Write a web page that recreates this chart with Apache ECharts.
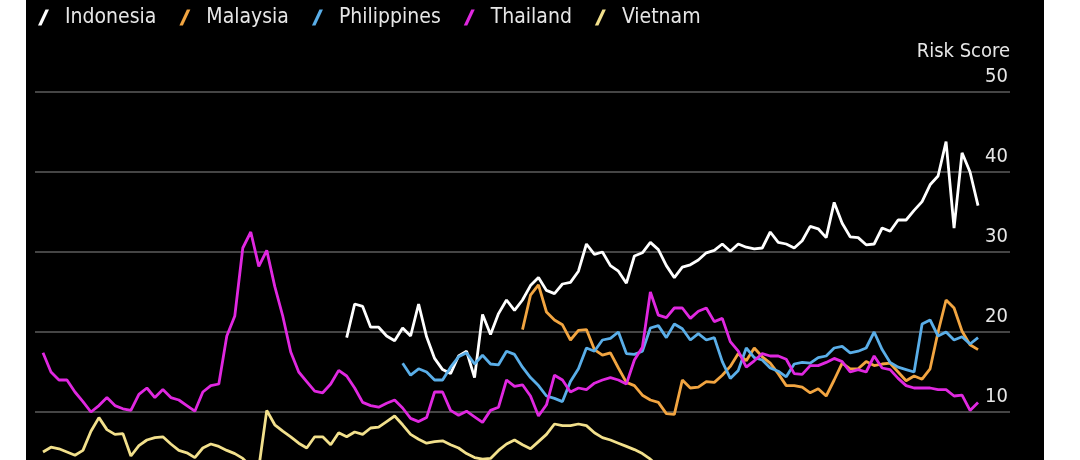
<!DOCTYPE html>
<html>
<head>
<meta charset="utf-8">
<title>Risk Score</title>
<script src="https://cdn.jsdelivr.net/npm/echarts@6/dist/echarts.min.js"></script>
<style>
    html, body { margin: 0; padding: 0; background: #ffffff; overflow: hidden; }
    /* the chart runs below the window; the bottom part is cut off like the source */
    #chart { position: absolute; left: 26px; top: 0; width: 1018px; height: 492px; }
</style>
</head>
<body>
<div id="chart"></div>
<script>
// weekly observations, index 0..122
var weekCount = 123;
var yTicks = [0, 10, 20, 30, 40, 50];

var countries = ['Indonesia', 'Malaysia', 'Philippines', 'Thailand', 'Vietnam'];
var colors = ['#ffffff', '#f2a541', '#5aaee8', '#e028e0', '#f2e08c'];

// first week index of each series
var startWeek = { Indonesia: 39, Malaysia: 61, Philippines: 46, Thailand: 1, Vietnam: 1 };

var indonesia = [19.3, 23.5, 23.2, 20.6, 20.6, 19.5, 18.9, 20.5, 19.5, 23.5,
    19.4, 16.7, 15.3, 14.8, 17, 17.6, 14.3, 22.2, 19.7, 22.3,
    24, 22.7, 24, 25.8, 26.8, 25.2, 24.8, 26, 26.2, 27.6,
    31, 29.7, 30, 28.3, 27.6, 26.1, 29.5, 29.9, 31.2, 30.3,
    28.3, 26.8, 28.1, 28.4, 29, 29.9, 30.2, 31, 30.1, 31,
    30.6, 30.4, 30.5, 32.5, 31.2, 31, 30.5, 31.4, 33.2, 32.9,
    31.8, 36.2, 33.6, 31.9, 31.8, 30.9, 31, 33, 32.6, 34,
    34, 35.2, 36.3, 38.4, 39.5, 43.8, 33, 42.4, 40, 35.8];

var malaysia = [20.3, 24.6, 25.9, 22.5, 21.5, 20.9, 19, 20.2, 20.3, 17.8,
    17.1, 17.4, 15.5, 13.7, 13.3, 12.1, 11.5, 11.2, 9.8, 9.7,
    14, 13, 13.1, 13.8, 13.7, 14.6, 15.7, 17.3, 16.4, 18,
    16.9, 16.1, 14.8, 13.3, 13.3, 13.1, 12.4, 12.9, 12, 14,
    16.1, 15.4, 15.4, 16.3, 15.8, 16, 16.1, 15, 13.9, 14.5,
    14.1, 15.4, 20, 24, 23, 20.1, 18.4, 17.8];

var philippines = [16.1, 14.6, 15.4, 15, 14, 14, 15.6, 16.9, 17.4, 16,
    17.1, 16, 15.9, 17.6, 17.2, 15.6, 14.3, 13.3, 12, 11.7,
    11.3, 13.8, 15.4, 18, 17.6, 19, 19.2, 20, 17.3, 17.2,
    17.6, 20.5, 20.8, 19.3, 21, 20.4, 19, 19.8, 19, 19.3,
    16.3, 14.2, 15.2, 18, 16.8, 16.5, 15.5, 15.1, 14.4, 16,
    16.2, 16.1, 16.8, 17, 18, 18.2, 17.4, 17.6, 18, 20,
    17.8, 16.2, 15.6, 15.3, 15, 21, 21.5, 19.5, 20, 19,
    19.4, 18.5, 19.3];

var thailand = [17.4, 15, 14, 14, 12.5, 11.3, 10, 10.8, 11.8, 10.8,
    10.4, 10.2, 12.2, 13, 11.8, 12.8, 11.8, 11.5, 10.8, 10.1,
    12.5, 13.3, 13.5, 19.5, 22, 30.5, 32.5, 28.2, 30.2, 25.7,
    22, 17.5, 15, 13.8, 12.6, 12.4, 13.5, 15.2, 14.5, 13,
    11.2, 10.8, 10.6, 11.1, 11.5, 10.5, 9.2, 8.8, 9.3, 12.5,
    12.5, 10.2, 9.6, 10.1, 9.4, 8.7, 10.2, 10.6, 14, 13.2,
    13.4, 12, 9.5, 10.9, 14.6, 14, 12.5, 13, 12.8, 13.6,
    14, 14.3, 14, 13.5, 16.5, 18.1, 25, 22.1, 21.8, 23,
    23, 21.7, 22.6, 23, 21.3, 21.7, 18.8, 17.6, 15.6, 16.4,
    17.3, 17, 17, 16.6, 14.8, 14.7, 15.8, 15.8, 16.2, 16.7,
    16.3, 15, 15.3, 15, 17, 15.5, 15.3, 14.2, 13.3, 13,
    13, 13, 12.8, 12.8, 12, 12.1, 10.2, 11.2];

var vietnam = [5, 5.6, 5.4, 5, 4.6, 5.2, 7.6, 9.3, 7.8, 7.2,
    7.3, 4.5, 5.8, 6.5, 6.8, 6.9, 6, 5.2, 4.9, 4.3,
    5.5, 6, 5.7, 5.2, 4.8, 4.2, 3.2, 3, 10.2, 8.4,
    7.6, 6.9, 6.1, 5.5, 6.9, 6.9, 5.9, 7.4, 6.9, 7.5,
    7.2, 8, 8.1, 8.8, 9.5, 8.4, 7.2, 6.6, 6.1, 6.3,
    6.4, 5.9, 5.5, 4.8, 4.3, 4.1, 4.2, 5.2, 6, 6.5,
    5.9, 5.4, 6.3, 7.2, 8.5, 8.3, 8.3, 8.5, 8.3, 7.4,
    6.8, 6.5, 6.1, 5.7, 5.3, 4.8, 4.1, 3.2, 2.8, 2.5];

var values = {
    Indonesia: indonesia,
    Malaysia: malaysia,
    Philippines: philippines,
    Thailand: thailand,
    Vietnam: vietnam
};

var weeks = [];
for (var w = 0; w < weekCount; w++) {
    weeks.push('W' + w);
}

// put a series onto the full week range
function padSeries(name) {
    var arr = [];
    for (var i = 0; i < weekCount; i++) {
        var j = i - startWeek[name];
        arr.push(j >= 0 && j < values[name].length ? values[name][j] : null);
    }
    return arr;
}

function initChart(con) {
    var chart = echarts.init(document.getElementById(con));
    var font = "'DejaVu Sans Condensed', 'Liberation Sans Narrow', 'DejaVu Sans', sans-serif";
    var series = countries.map(function (name, i) {
        return {
            name: name,
            type: 'line',
            data: padSeries(name),
            showSymbol: false,
            symbol: 'none',
            connectNulls: false,
            lineStyle: { width: 2.8, color: colors[i] },
            itemStyle: { color: colors[i] }
        };
    });
    var option = {
        backgroundColor: '#000000',
        animation: false,
        textStyle: { fontFamily: font },
        legend: {
            left: 7,
            top: 2,
            itemWidth: 11,
            itemHeight: 16,
            itemGap: 23,
            icon: 'path://M0,16 L7.5,0 L11,0 L3.5,16 Z',
            textStyle: {
                color: '#e6e6e6',
                fontSize: 21,
                fontFamily: font,
                padding: [0, 0, 0, 11]
            },
            data: countries
        },
        grid: {
            left: 9,
            right: 34,
            top: 92,
            bottom: 0
        },
        xAxis: {
            type: 'category',
            boundaryGap: false,
            data: weeks,
            show: false
        },
        yAxis: {
            type: 'value',
            position: 'right',
            min: yTicks[0],
            max: yTicks[yTicks.length - 1],
            interval: 10,
            name: 'Risk Score',
            nameLocation: 'end',
            nameGap: 40,
            nameTextStyle: {
                color: '#e6e6e6',
                fontSize: 20,
                fontFamily: font,
                align: 'right',
                verticalAlign: 'middle'
            },
            axisLine: { show: false },
            axisTick: { show: false },
            axisLabel: {
                inside: true,
                margin: 2,
                color: '#e6e6e6',
                fontSize: 20,
                fontFamily: font,
                verticalAlign: 'bottom',
                padding: [0, 0, 5, 0],
                formatter: function (v) { return v === 0 ? '' : v; }
            },
            splitLine: {
                lineStyle: { color: '#5c5c5c', width: 1.5 }
            }
        },
        series: series
    };
    chart.setOption(option);
}

initChart('chart');
</script>
</body>
</html>
